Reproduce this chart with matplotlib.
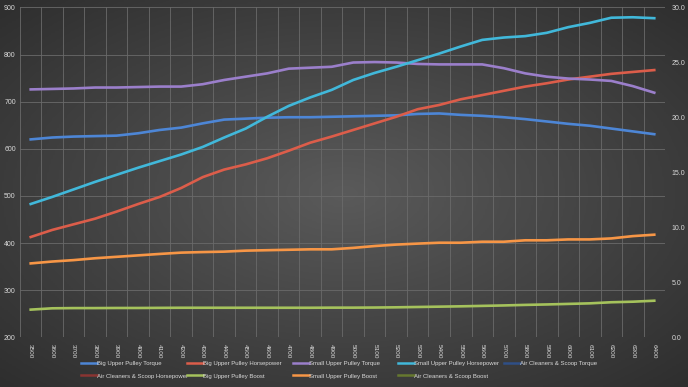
import numpy as np
import matplotlib
matplotlib.use("Agg")
import matplotlib.pyplot as plt
from matplotlib.lines import Line2D

plt.rcParams['font.family'] = ['Liberation Sans', 'DejaVu Sans']

# engine speed (rpm) categories
rpm = [3500, 3600, 3700, 3800, 3900, 4000, 4100, 4200, 4300, 4400,
       4500, 4600, 4700, 4800, 4900, 5000, 5100, 5200, 5300, 5400,
       5500, 5600, 5700, 5800, 5900, 6000, 6100, 6200, 6300, 6400]

# torque / horsepower (left axis)
big_torque = [620, 624, 626, 627, 628, 633, 640, 645, 654, 662,
              664, 666, 667, 667, 668, 669, 670, 671, 674, 675,
              672, 670, 667, 663, 658, 653, 649, 643, 637, 631]
big_hp = [413, 428, 440, 452, 467, 483, 498, 517, 540, 556,
          567, 580, 596, 613, 626, 640, 654, 668, 684, 693,
          705, 714, 723, 732, 739, 747, 753, 759, 763, 767]
small_torque = [726, 727, 728, 730, 730, 731, 732, 732, 737, 746,
                753, 760, 770, 772, 774, 783, 784, 783, 780, 779,
                779, 779, 771, 760, 753, 749, 747, 744, 733, 719]
small_hp = [483, 498, 514, 530, 545, 560, 574, 588, 604, 624,
            643, 668, 691, 709, 725, 746, 761, 774, 788, 802,
            817, 831, 836, 839, 846, 858, 867, 878, 879, 877]

# boost in psi (right axis)
big_boost = [2.53, 2.65, 2.67, 2.67, 2.68, 2.68, 2.69, 2.70, 2.70, 2.70,
             2.70, 2.70, 2.70, 2.70, 2.71, 2.71, 2.72, 2.74, 2.77, 2.80,
             2.83, 2.87, 2.91, 2.96, 3.00, 3.05, 3.10, 3.20, 3.25, 3.34]
small_boost = [6.73, 6.90, 7.03, 7.20, 7.33, 7.46, 7.59, 7.71, 7.76, 7.80,
               7.89, 7.93, 7.97, 8.01, 8.01, 8.14, 8.31, 8.44, 8.53, 8.61,
               8.61, 8.70, 8.70, 8.83, 8.83, 8.91, 8.91, 9.00, 9.21, 9.34]

labels = ['Big Upper Pulley Torque', 'Big Upper Pulley Horsepower',
          'Small Upper Pulley Torque', 'Small Upper Pulley Horsepower',
          'Air Cleaners & Scoop Torque', 'Air Cleaners & Scoop Horsepower',
          'Big Upper Pulley Boost', 'Small Upper Pulley Boost',
          'Air Cleaners & Scoop Boost']
colors = ['#4d86d6', '#dc5d4a', '#9b7fcb', '#41b8da', '#2f4f86',
          '#8a3432', '#a5c25c', '#f79646', '#66782f']

fig = plt.figure(figsize=(6.88, 3.87), dpi=100)

# radial gray background
bg = fig.add_axes([0, 0, 1, 1], zorder=-10)
yy, xx = np.mgrid[-1:1:200j, -1:1:350j]
r = np.sqrt(xx**2 + yy**2) / np.sqrt(2)
bg.imshow(r, cmap=matplotlib.colors.LinearSegmentedColormap.from_list(
    'g', ['#5a5a5a', '#2e2e2e']), aspect='auto', extent=[0, 1, 0, 1])
bg.axis('off')

ax = fig.add_axes([0.029, 0.128, 0.9376, 0.853])
ax.set_facecolor('none')
x = np.arange(len(rpm))

ax.plot(x, big_torque, color=colors[0], lw=1.9)
ax.plot(x, big_hp, color=colors[1], lw=1.9)
ax.plot(x, small_torque, color=colors[2], lw=1.9)
ax.plot(x, small_hp, color=colors[3], lw=1.9)

ax.set_ylim(200, 900)
ax.set_xlim(-0.5, len(rpm) - 0.5)
ax.set_yticks(range(200, 901, 100))
ax.set_xticks(x)
ax.set_xticklabels([str(v) for v in rpm], rotation=270)
ax.set_xticks(np.arange(-0.5, len(rpm), 1), minor=True)
ax.grid(which='minor', axis='x', color='#6a6a6a', lw=0.6)
ax.grid(which='major', axis='y', color='#6a6a6a', lw=0.6)
ax.tick_params(axis='x', which='both', length=0, labelsize=4.6, colors='#d9d9d9', pad=5)
ax.tick_params(axis='y', length=0, labelsize=5, colors='#d9d9d9', pad=3)
for s in ax.spines.values():
    s.set_visible(False)

ax2 = ax.twinx()
ax2.plot(x, big_boost, color=colors[6], lw=1.9)
ax2.plot(x, small_boost, color=colors[7], lw=1.9)
ax2.set_ylim(0, 30)
ax2.set_yticks(range(0, 31, 5))
ax2.set_yticklabels(['%.1f' % v for v in range(0, 31, 5)])
ax2.tick_params(axis='y', length=0, labelsize=5, colors='#d9d9d9', pad=5)
for s in ax2.spines.values():
    s.set_visible(False)

# legend: two rows, five evenly spaced columns (one small legend per column)
handles = [Line2D([], [], color=c, lw=1.8) for c in colors]
col_x = [81, 187, 293, 398, 504]
for c, x0 in enumerate(col_x):
    idx = [i for i in (c, c + 5) if i < len(labels)]
    fig.legend([handles[i] for i in idx], [labels[i] for i in idx],
               loc='upper left', bbox_to_anchor=(x0 / 688, 1 - 361 / 387),
               frameon=False, fontsize=4.3, labelcolor='#d9d9d9',
               borderpad=0, borderaxespad=0,
               handlelength=2.6, handletextpad=0.15, labelspacing=1.2)

fig.savefig('out.png', dpi=100)
